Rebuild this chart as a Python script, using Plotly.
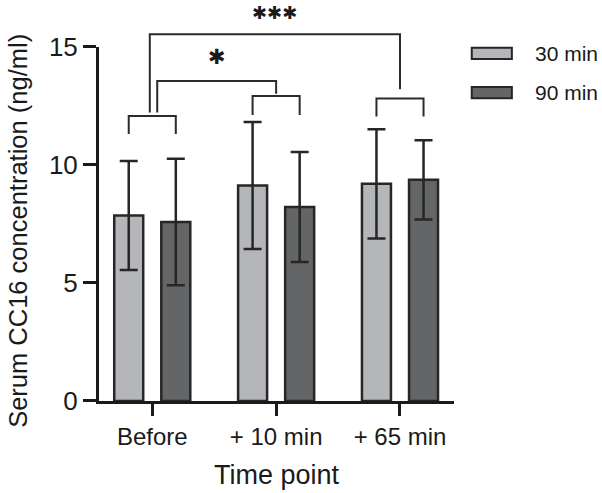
import plotly.graph_objects as go

# ---------------- data ----------------
categories = ["Before", "+ 10 min", "+ 65 min"]
series_names = ["30 min", "90 min"]
mean_30 = [7.86, 9.13, 9.20]
sd_30 = [2.31, 2.69, 2.31]
mean_90 = [7.58, 8.22, 9.37]
sd_90 = [2.68, 2.33, 1.68]
y_tickvals = [0, 5, 10, 15]
x_title = "Time point"
y_title = "Serum CC16 concentration (ng/ml)"

# within-timepoint brackets (x in category units, y in ng/ml)
pair_x = [[-0.19, -0.19, 0.19, 0.19], [0.81, 0.81, 1.19, 1.19], [1.81, 1.81, 2.19, 2.19]]
pair_y = [[11.31, 12.08, 12.08, 11.31], [12.12, 12.92, 12.92, 12.12], [12.05, 12.82, 12.82, 12.05]]
# between-timepoint significance brackets
sig_x = [[0.04, 0.04, 1.0, 1.0], [-0.02, -0.02, 2.0, 2.0]]
sig_y = [[12.22, 13.56, 13.56, 13.02], [12.22, 15.54, 15.54, 13.21]]
sig_labels = ["✱", "✱✱✱"]
sig_label_y = [14.58, 16.45]

# ---------------- style ----------------
Y_AXIS_MAX = 15
Y_FULL_MAX = 16.99
C_LIGHT = "#b5b6b9"
C_DARK = "#646567"
EDGE = "#262626"
FONT = "Arial, Liberation Sans, sans-serif"

fig = go.Figure()
for name, m, s, c in [(series_names[0], mean_30, sd_30, C_LIGHT),
                      (series_names[1], mean_90, sd_90, C_DARK)]:
    fig.add_trace(go.Bar(
        x=list(range(len(categories))), y=m, name=name,
        marker=dict(color=c, line=dict(color=EDGE, width=2.5)),
        error_y=dict(type="data", array=s, visible=True, color=EDGE, thickness=2.5, width=9),
        showlegend=False, xaxis="x", yaxis="y",
    ))

for bx, by in zip(pair_x + sig_x, pair_y + sig_y):
    fig.add_trace(go.Scatter(
        x=bx, y=by, mode="lines", line=dict(color="#2b2b2b", width=2),
        showlegend=False, hoverinfo="skip", xaxis="x", yaxis="y2",
    ))

for bx, ly, lab, fs in zip(sig_x, sig_label_y, sig_labels, [21, 18]):
    fig.add_annotation(
        x=(bx[1] + bx[2]) / 2, y=ly, xref="x", yref="y2", text=lab,
        showarrow=False, yanchor="middle",
        font=dict(family="DejaVu Sans", size=fs, color="#1a1a1a"),
    )

# y-axis title
fig.add_annotation(x=-0.2285, y=0.424, xref="paper", yref="paper", text=y_title,
                   textangle=-90, showarrow=False, xanchor="center", yanchor="middle",
                   font=dict(family=FONT, size=25.5, color="#1a1a1a"))

# custom legend (wide rectangles as in the original)
leg_y = [0.867, 0.769]
for name, c, ly in zip(series_names, [C_LIGHT, C_DARK], leg_y):
    fig.add_shape(type="rect", xref="paper", yref="paper",
                  x0=1.05, x1=1.163, y0=ly - 0.014, y1=ly + 0.014,
                  fillcolor=c, line=dict(color=EDGE, width=2))
    fig.add_annotation(x=1.222, y=ly, xref="paper", yref="paper", text=name,
                       showarrow=False, xanchor="left", yanchor="middle",
                       font=dict(family=FONT, size=21, color="#1a1a1a"))

fig.update_layout(
    width=602, height=493,
    margin=dict(l=99, r=148, t=0, b=92, pad=0, autoexpand=False),
    paper_bgcolor="white", plot_bgcolor="rgba(0,0,0,0)",
    barmode="group", bargap=0.24, bargroupgap=0.384,
    font=dict(family=FONT, color="#1a1a1a"),
    xaxis=dict(
        range=[-0.430, 2.436], tickmode="array",
        tickvals=list(range(len(categories))), ticktext=categories,
        showline=True, linecolor="#1a1a1a", linewidth=3,
        ticks="outside", ticklen=12, tickwidth=3, tickcolor="#1a1a1a",
        tickfont=dict(size=24), showgrid=False, zeroline=False, anchor="y",
        automargin=False,
        title=dict(text=x_title, font=dict(size=27), standoff=17),
    ),
    yaxis=dict(
        domain=[0, Y_AXIS_MAX / Y_FULL_MAX], range=[0, Y_AXIS_MAX],
        tickmode="array", tickvals=y_tickvals,
        showline=True, linecolor="#1a1a1a", linewidth=3,
        ticks="outside", ticklen=13, tickwidth=3, tickcolor="#1a1a1a",
        tickfont=dict(size=26), showgrid=False, zeroline=False, anchor="x",
        automargin=False,
    ),
    yaxis2=dict(domain=[0, 1], range=[0, Y_FULL_MAX], visible=False, anchor="x",
                automargin=False),
)

fig.write_html("out.html", config={"displayModeBar": False},
               post_script="document.body.style.margin='0';")
